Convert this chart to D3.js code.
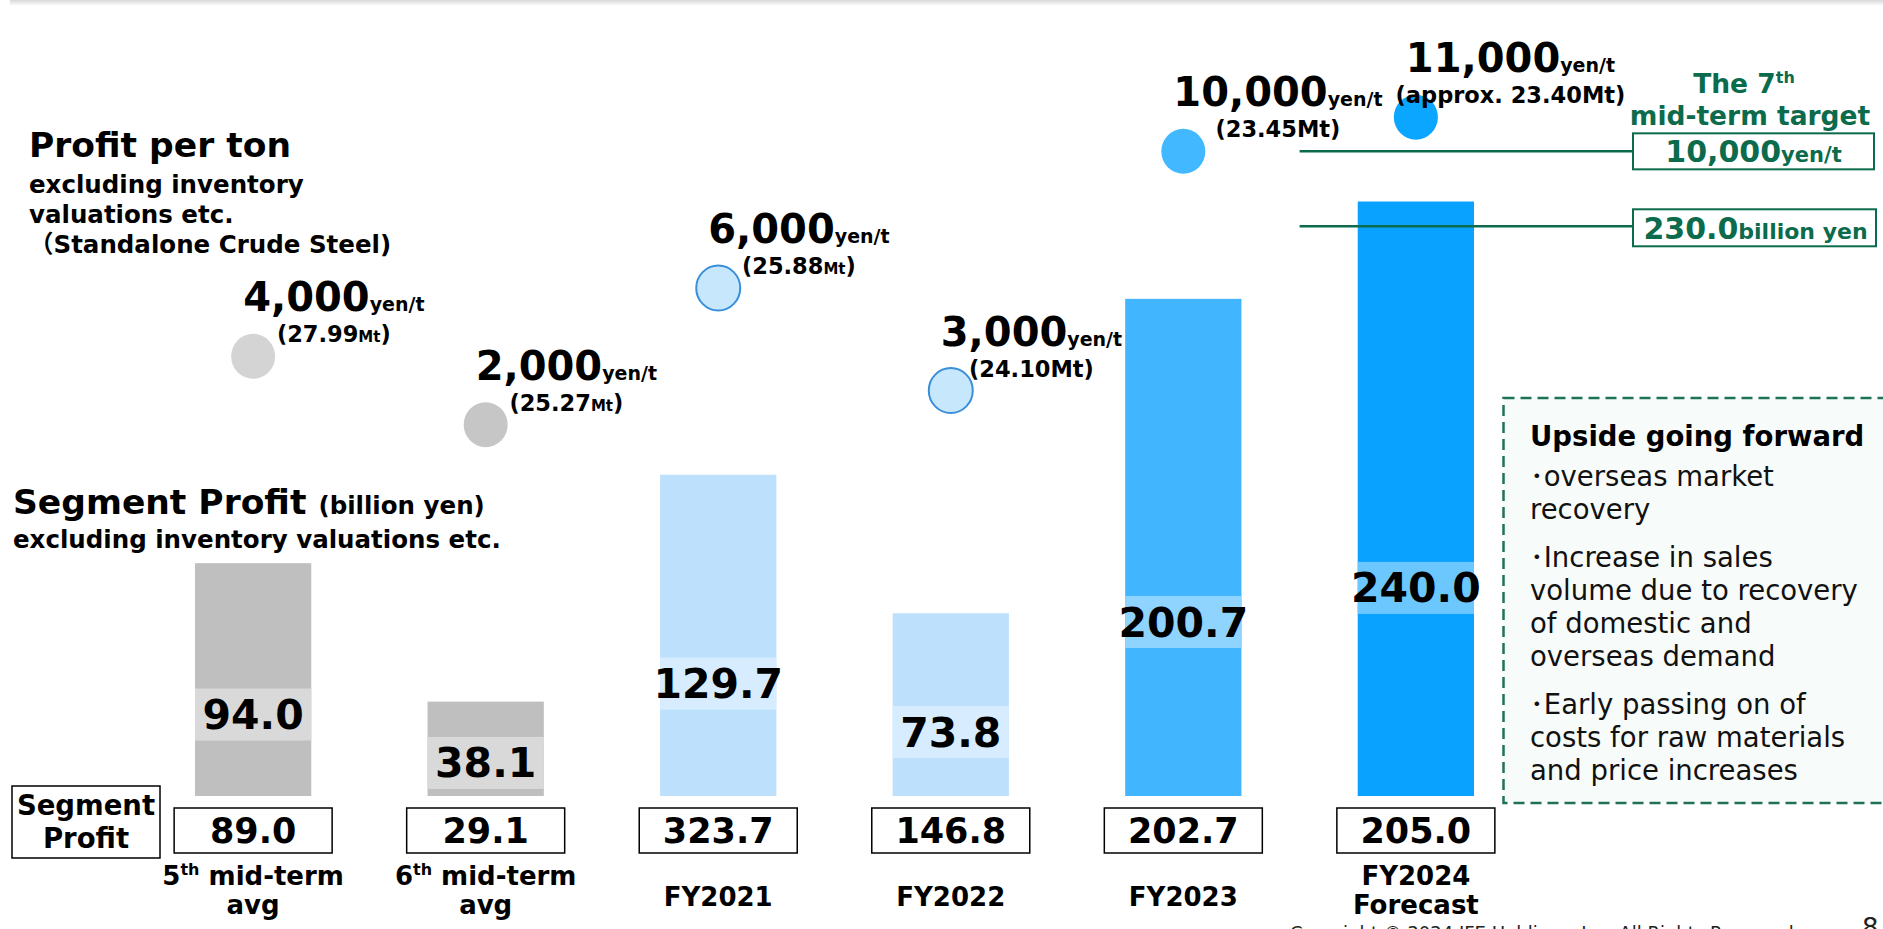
<!DOCTYPE html>
<html><head><meta charset="utf-8">
<script src="https://cdn.jsdelivr.net/npm/d3@7"></script>
<style>
body{margin:0;background:#fff;overflow:hidden;}
svg{display:block;font-family:"DejaVu Sans",Verdana,"Noto Sans CJK JP",sans-serif;}
</style></head><body>
<svg id="chart" width="1883" height="929"></svg>
<script>
// ---------------- data ----------------
const categories = ["5th mid-term avg", "6th mid-term avg", "FY2021", "FY2022", "FY2023", "FY2024 Forecast"];
const categoryLines = [["5^th mid-term", "avg"], ["6^th mid-term", "avg"], ["FY2021"], ["FY2022"], ["FY2023"], ["FY2024", "Forecast"]];
const segmentProfitExInv = [94.0, 38.1, 129.7, 73.8, 200.7, 240.0];   // bars (billion yen)
const segmentProfit = [89.0, 29.1, 323.7, 146.8, 202.7, 205.0];       // boxed row (billion yen)
const profitPerTon = [4000, 2000, 6000, 3000, 10000, 11000];          // yen/t
const crudeSteelMt = [27.99, 25.27, 25.88, 24.10, 23.45, 23.40];      // Mt
const crudeSteelNote = ["", "", "", "", "", "approx. "];
const targetProfitPerTon = 10000;
const targetSegmentProfit = 230.0;
const upsideTitle = "Upside going forward";
const upsideItems = [
  ["･overseas market", "recovery"],
  ["･Increase in sales", "volume due to recovery", "of domestic and", "overseas demand"],
  ["･Early passing on of", "costs for raw materials", "and price increases"]
];

// ---------------- styles ----------------
const barFill = ["#bfbfbf", "#bfbfbf", "#bde1fd", "#bde1fd", "#41b6ff", "#0aa2ff"];
const labelFill = ["#d9d9d9", "#d9d9d9", "#d7edff", "#d7edff", "#8fd3ff", "#6cc7ff"];
const dotFill = ["#d4d4d4", "#c6c6c6", "#c7e7fc", "#c7e7fc", "#41b8ff", "#0aa6ff"];
const dotStroke = [null, null, "#3a8fd9", "#3a8fd9", null, null];
const green = "#0b6b4c";

const W = 1883, H = 929;
const svg = d3.select("#chart");
const defs = svg.append("defs");
const grad = defs.append("linearGradient").attr("id", "topShade").attr("x1", 0).attr("y1", 0).attr("x2", 0).attr("y2", 1);
grad.append("stop").attr("offset", 0).attr("stop-color", "#d8d8d8");
grad.append("stop").attr("offset", 1).attr("stop-color", "#ffffff");
svg.append("rect").attr("x", 10).attr("y", 0).attr("width", W).attr("height", 6).attr("fill", "url(#topShade)");

// ---------------- scales ----------------
const x = d3.scaleBand().domain(categories).range([195, 1474]).paddingInner(0.5).paddingOuter(0);
const yBar = d3.scaleLinear().domain([0, 250]).range([796, 796 - 250 * 2.477]);
const yTon = d3.scaleLinear().domain([0, 12000]).range([493, 83]);
const bw = x.bandwidth();
const cxOf = i => x(categories[i]) + bw / 2;

// ---------------- left titles ----------------
const t1 = svg.append("g").attr("font-weight", "bold").attr("fill", "#000");
t1.append("text").attr("x", 29).attr("y", 157).attr("font-size", 34.5).text("Profit per ton");
t1.append("text").attr("x", 29).attr("y", 193).attr("font-size", 24.5).text("excluding inventory");
t1.append("text").attr("x", 29).attr("y", 223).attr("font-size", 24.5).text("valuations etc.");
t1.append("text").attr("x", 29).attr("y", 253).attr("font-size", 24.5).text("（Standalone Crude Steel)");

const t2 = svg.append("g").attr("font-weight", "bold").attr("fill", "#000");
const sp = t2.append("text").attr("x", 13).attr("y", 514);
sp.append("tspan").attr("font-size", 34.5).text("Segment Profit ");
sp.append("tspan").attr("font-size", 24.5).text("(billion yen)");
t2.append("text").attr("x", 13).attr("y", 548).attr("font-size", 24.5).text("excluding inventory valuations etc.");

// ---------------- bars ----------------
const gb = svg.append("g");
gb.selectAll("rect.bar").data(segmentProfitExInv).join("rect").attr("class", "bar")
  .attr("x", (d, i) => x(categories[i])).attr("y", d => yBar(d))
  .attr("width", bw).attr("height", d => yBar(0) - yBar(d))
  .attr("fill", (d, i) => barFill[i]);
gb.selectAll("rect.lab").data(segmentProfitExInv).join("rect").attr("class", "lab")
  .attr("x", (d, i) => x(categories[i])).attr("y", d => yBar(d * 0.35) - 26)
  .attr("width", bw).attr("height", 52).attr("fill", (d, i) => labelFill[i]);
gb.selectAll("text").data(segmentProfitExInv).join("text")
  .attr("x", (d, i) => cxOf(i)).attr("y", d => yBar(d * 0.35) + 14.5)
  .attr("text-anchor", "middle").attr("font-size", 41).attr("font-weight", "bold")
  .text(d => d3.format(".1f")(d));

// ---------------- segment profit row ----------------
const gr = svg.append("g");
gr.append("rect").attr("x", 12).attr("y", 786).attr("width", 148).attr("height", 72)
  .attr("fill", "#fff").attr("stroke", "#000").attr("stroke-width", 1.5);
gr.append("text").attr("x", 86).attr("y", 815).attr("text-anchor", "middle").attr("font-size", 27.5).attr("font-weight", "bold").text("Segment");
gr.append("text").attr("x", 86).attr("y", 848).attr("text-anchor", "middle").attr("font-size", 27.5).attr("font-weight", "bold").text("Profit");
gr.selectAll("rect.box").data(segmentProfit).join("rect").attr("class", "box")
  .attr("x", (d, i) => cxOf(i) - 79).attr("y", 808).attr("width", 158).attr("height", 45)
  .attr("fill", "#fff").attr("stroke", "#000").attr("stroke-width", 1.5);
gr.selectAll("text.val").data(segmentProfit).join("text").attr("class", "val")
  .attr("x", (d, i) => cxOf(i)).attr("y", 843).attr("text-anchor", "middle")
  .attr("font-size", 35).attr("font-weight", "bold").text(d => d3.format(".1f")(d));

// ---------------- category labels ----------------
const gc = svg.append("g").attr("font-weight", "bold").attr("font-size", 26);
categoryLines.forEach((lines, i) => {
  const ys = lines.length === 2 ? [885, 914] : [906];
  lines.forEach((ln, j) => {
    const t = gc.append("text").attr("x", cxOf(i)).attr("y", ys[j]).attr("text-anchor", "middle");
    const parts = ln.split("^th");
    if (parts.length === 2) {
      t.append("tspan").text(parts[0]);
      t.append("tspan").attr("font-size", 16).attr("dy", -10).text("th");
      t.append("tspan").attr("dy", 10).text(parts[1]);
    } else t.text(ln);
  });
});

// ---------------- target lines ----------------
const lineX1 = x(categories[4]) + bw + (x.step() - bw) / 2;
const boxX = 1633, boxW = 241;
const ly1 = yTon(targetProfitPerTon), ly2 = yBar(targetSegmentProfit);
const gt = svg.append("g").attr("fill", green).attr("font-weight", "bold");
gt.append("line").attr("x1", lineX1).attr("x2", boxX).attr("y1", ly1).attr("y2", ly1).attr("stroke", green).attr("stroke-width", 2.5);
gt.append("line").attr("x1", lineX1).attr("x2", boxX).attr("y1", ly2).attr("y2", ly2).attr("stroke", green).attr("stroke-width", 2.5);
gt.append("rect").attr("x", boxX).attr("y", ly1 - 18).attr("width", boxW).attr("height", 36).attr("fill", "#fff").attr("stroke", green).attr("stroke-width", 2);
gt.append("rect").attr("x", boxX).attr("y", ly2 - 17).attr("width", boxW + 2).attr("height", 37).attr("fill", "#fff").attr("stroke", green).attr("stroke-width", 2);
const tt1 = gt.append("text").attr("x", boxX + boxW / 2).attr("y", ly1 + 11).attr("text-anchor", "middle");
tt1.append("tspan").attr("font-size", 30).text(d3.format(",")(targetProfitPerTon));
tt1.append("tspan").attr("font-size", 21).text("yen/t");
const tt2 = gt.append("text").attr("x", boxX + boxW / 2 + 2).attr("y", ly2 + 13).attr("text-anchor", "middle");
tt2.append("tspan").attr("font-size", 30).text(d3.format(".1f")(targetSegmentProfit));
tt2.append("tspan").attr("font-size", 22).text("billion yen");
const th = gt.append("text").attr("x", 1744).attr("y", ly1 - 58).attr("text-anchor", "middle").attr("font-size", 26.5);
th.append("tspan").text("The 7");
th.append("tspan").attr("font-size", 16).attr("dy", -10).text("th");
gt.append("text").attr("x", 1750).attr("y", ly1 - 26).attr("text-anchor", "middle").attr("font-size", 26.5).text("mid-term target");

// ---------------- profit per ton dots ----------------
const gd = svg.append("g");
gd.selectAll("ellipse").data(profitPerTon).join("ellipse")
  .attr("cx", (d, i) => cxOf(i)).attr("cy", d => yTon(d)).attr("rx", 22).attr("ry", 22.5)
  .attr("fill", (d, i) => dotFill[i])
  .attr("stroke", (d, i) => dotStroke[i] || "none").attr("stroke-width", 2);
profitPerTon.forEach((v, i) => {
  const cx = cxOf(i), cy = yTon(v);
  const big = gd.append("text").attr("x", cx - 10).attr("y", cy - 45).attr("font-weight", "bold");
  big.append("tspan").attr("font-size", 40).text(d3.format(",")(v));
  big.append("tspan").attr("font-size", 19).text("yen/t");
  const w = big.node().getComputedTextLength();
  const sub = gd.append("text").attr("x", cx - 10 + w / 2).attr("y", cy - 14)
    .attr("text-anchor", "middle").attr("font-weight", "bold").attr("font-size", 22.5);
  sub.append("tspan").text("(" + crudeSteelNote[i] + d3.format(".2f")(crudeSteelMt[i]));
  sub.append("tspan").attr("font-size", i < 3 ? 15 : 22.5).text("Mt");
  sub.append("tspan").text(")");
});

// ---------------- upside box ----------------
const gu = svg.append("g");
gu.append("rect").attr("x", 1503.5).attr("y", 398).attr("width", 420).attr("height", 405)
  .attr("fill", "#f7fbfa").attr("stroke", "#1f7354").attr("stroke-width", 2.5).attr("stroke-dasharray", "11,6");
gu.append("text").attr("x", 1530).attr("y", 446).attr("font-size", 27.5).attr("font-weight", "bold").text(upsideTitle);
let yy = 486;
upsideItems.forEach(item => {
  item.forEach(ln => {
    gu.append("text").attr("x", 1530).attr("y", yy).attr("font-size", 27.5).attr("fill", "#111").text(ln);
    yy += 33;
  });
  yy += 15;
});

// ---------------- footer ----------------
svg.append("text").attr("x", 1290).attr("y", 939).attr("font-size", 18).attr("fill", "#222")
  .text("Copyright © 2024 JFE Holdings, Inc. All Rights Reserved.");
svg.append("text").attr("x", 1862).attr("y", 937).attr("font-size", 26).attr("fill", "#222").text("8");
</script>
</body></html>
